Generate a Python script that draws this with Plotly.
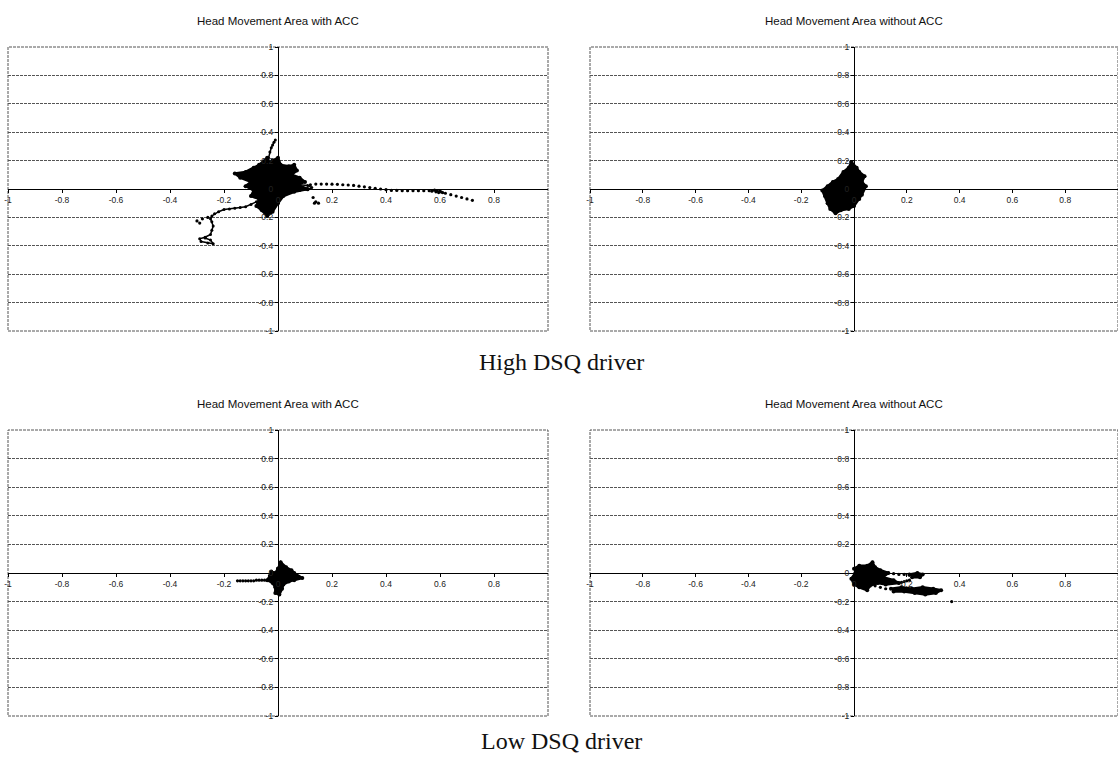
import plotly.graph_objects as go

# ---------------- data ----------------
X_TICKS = [-1, -0.8, -0.6, -0.4, -0.2, 0, 0.2, 0.4, 0.6, 0.8]
X_TICK_TEXT = ["-1", "-0.8", "-0.6", "-0.4", "-0.2", "0", "0.2", "0.4", "0.6", "0.8"]
Y_TICKS = [-1, -0.8, -0.6, -0.4, -0.2, 0, 0.2, 0.4, 0.6, 0.8, 1]
Y_TICK_TEXT = ["-1", "-0.8", "-0.6", "-0.4", "-0.2", "0", "0.2", "0.4", "0.6", "0.8", "1"]

PANEL_TITLES = ["Head Movement Area with ACC", "Head Movement Area without ACC",
                "Head Movement Area with ACC", "Head Movement Area without ACC"]
ROW_CAPTIONS = ["High DSQ driver", "Low DSQ driver"]

# Panel 1: High DSQ, with ACC
TL_BLOB_X = [-0.02, 0.0, 0.01, 0.04, 0.06, 0.07, 0.05, 0.08, 0.10, 0.07, 0.11, 0.06, 0.02, 0.0,
             -0.02, -0.04, -0.06, -0.08, -0.07, -0.10, -0.09, -0.12, -0.10, -0.14, -0.16, -0.12,
             -0.09, -0.07, -0.04, -0.03]
TL_BLOB_Y = [0.20, 0.22, 0.17, 0.16, 0.17, 0.13, 0.10, 0.08, 0.05, 0.03, 0.0, -0.02, -0.05, -0.10,
             -0.16, -0.19, -0.15, -0.12, -0.07, -0.05, -0.01, 0.02, 0.05, 0.08, 0.11, 0.12,
             0.15, 0.17, 0.22, 0.18]
TL_PATH_X = [-0.08, -0.10, -0.12, -0.14, -0.16, -0.18, -0.20, -0.22, -0.235, -0.245, -0.25, -0.245,
             -0.24, -0.245, -0.25, -0.27, -0.29, -0.285, -0.26, -0.24, -0.25, -0.27, None,
             -0.035, -0.03, -0.025, -0.02, -0.015, -0.01, None,
             0.05, 0.08, 0.11, 0.125, 0.11, 0.08, 0.05]
TL_PATH_Y = [-0.09, -0.11, -0.125, -0.13, -0.135, -0.14, -0.145, -0.16, -0.175, -0.19, -0.21, -0.23,
             -0.26, -0.29, -0.32, -0.34, -0.35, -0.37, -0.38, -0.385, -0.36, -0.345, None,
             0.22, 0.26, 0.29, 0.31, 0.33, 0.345, None,
             0.02, 0.03, 0.025, 0.01, -0.005, -0.01, -0.005]
TL_DOTS_X = [0.12, 0.14, 0.16, 0.18, 0.20, 0.22, 0.24, 0.26, 0.28, 0.30, 0.32, 0.34, 0.36, 0.38,
             0.40, 0.42, 0.44, 0.46, 0.48, 0.50, 0.52, 0.54, 0.56, 0.57, 0.58, 0.585, 0.59, 0.595,
             0.60, 0.605, 0.61, 0.62, 0.64, 0.66, 0.68, 0.70, 0.72,
             0.13, 0.14, 0.15, 0.135, -0.26, -0.28, -0.30, -0.29]
TL_DOTS_Y = [0.03, 0.035, 0.035, 0.035, 0.034, 0.033, 0.03, 0.028, 0.025, 0.02, 0.015, 0.01, 0.005,
             0.0, -0.005, -0.01, -0.01, -0.012, -0.012, -0.012, -0.012, -0.012, -0.012, -0.015,
             -0.008, -0.02, -0.012, -0.025, -0.015, -0.022, -0.025, -0.03, -0.04, -0.05, -0.06,
             -0.07, -0.08,
             -0.06, -0.09, -0.10, -0.1, -0.20, -0.21, -0.225, -0.24]

# Panel 2: High DSQ, without ACC
TR_BLOB_X = [-0.01, 0.01, 0.02, 0.04, 0.03, 0.045, 0.03, 0.02, 0.0, -0.02, -0.05, -0.07, -0.09,
             -0.10, -0.11, -0.12, -0.10, -0.08, -0.06, -0.04, -0.02]
TR_BLOB_Y = [0.19, 0.15, 0.12, 0.09, 0.05, 0.02, -0.04, -0.07, -0.12, -0.14, -0.15, -0.17, -0.14,
             -0.10, -0.05, -0.01, 0.02, 0.05, 0.07, 0.12, 0.15]

# Panel 3: Low DSQ, with ACC
BL_BLOB_X = [0.0, 0.01, 0.03, 0.05, 0.06, 0.09, 0.06, 0.04, 0.02, 0.015, 0.005, -0.01, -0.01,
             -0.02, -0.04, -0.03, -0.025, -0.01]
BL_BLOB_Y = [0.03, 0.075, 0.04, 0.02, 0.0, -0.035, -0.05, -0.06, -0.08, -0.11, -0.15, -0.14,
             -0.10, -0.07, -0.05, -0.02, 0.01, 0.0]
BL_DOTS_X = [-0.15, -0.14, -0.13, -0.12, -0.11, -0.10, -0.09, -0.08, -0.07, -0.06, -0.05]
BL_DOTS_Y = [-0.055, -0.055, -0.055, -0.055, -0.055, -0.055, -0.055, -0.05, -0.05, -0.05, -0.05]

# Panel 4: Low DSQ, without ACC
BR_BLOB_X = [0.0, 0.02, 0.05, 0.07, 0.08, 0.10, 0.13, 0.11, 0.15, 0.17, 0.12, 0.09, 0.06, 0.05,
             0.02, 0.0, -0.01, 0.005, None,
             0.14, 0.18, 0.22, 0.26, 0.30, 0.33, 0.31, 0.27, 0.23, 0.19, 0.15, None,
             0.21, 0.24, 0.26, 0.25, 0.22]
BR_BLOB_Y = [0.03, 0.05, 0.05, 0.075, 0.04, 0.02, 0.0, -0.03, -0.05, -0.07, -0.08, -0.07, -0.09,
             -0.12, -0.10, -0.08, -0.04, 0.0, None,
             -0.11, -0.10, -0.11, -0.10, -0.11, -0.12, -0.14, -0.15, -0.14, -0.13, -0.13, None,
             -0.01, 0.0, -0.01, -0.03, -0.03]
BR_DOTS_X = [0.13, 0.15, 0.17, 0.19, 0.21, 0.17, 0.18, 0.19, 0.20, 0.21, 0.08, 0.10, 0.12, 0.37]
BR_DOTS_Y = [0.0, -0.005, -0.01, -0.01, -0.015, -0.07, -0.065, -0.06, -0.055, -0.05, -0.09, -0.10,
             -0.11, -0.2]

# ---------------- layout geometry ----------------
W, H = 1118, 760
# panel boxes in pixels: (left, right, top, bottom)
BOXES = [(8, 548, 47, 331), (590, 1118, 47, 331), (8, 548, 430, 716), (590, 1118, 430, 716)]

fig = go.Figure()

panels = [
    (TL_BLOB_X, TL_BLOB_Y, [(TL_PATH_X, TL_PATH_Y)], [(TL_DOTS_X, TL_DOTS_Y)]),
    (TR_BLOB_X, TR_BLOB_Y, [], []),
    (BL_BLOB_X, BL_BLOB_Y, [], [(BL_DOTS_X, BL_DOTS_Y)]),
    (BR_BLOB_X, BR_BLOB_Y, [], [(BR_DOTS_X, BR_DOTS_Y)]),
]

layout = dict(
    width=W, height=H, margin=dict(l=0, r=0, t=0, b=0, pad=0, autoexpand=False),
    paper_bgcolor="white", plot_bgcolor="white", showlegend=False,
    shapes=[], annotations=[],
)

tick_font = dict(family="Liberation Sans, Arial", size=8.5, color="#222")

for i, (box, (bx, by, paths, dots)) in enumerate(zip(BOXES, panels), start=1):
    l, r, t, b = box
    xd = [l / W, min(r / W, 1.0)]
    yd = [1 - b / H, 1 - t / H]
    xmid = (xd[0] + xd[1]) / 2
    ymid = (yd[0] + yd[1]) / 2
    xa = "x" if i == 1 else f"x{i}"
    ya = "y" if i == 1 else f"y{i}"

    layout[f"xaxis{'' if i == 1 else i}"] = dict(
        domain=xd, range=[-1, 1], anchor="free", position=ymid, automargin=False,
        showline=True, linecolor="black", linewidth=1.3,
        tickvals=X_TICKS, ticktext=X_TICK_TEXT, ticks="outside", ticklen=3,
        tickcolor="black", tickfont=tick_font,
        showgrid=False, zeroline=False, fixedrange=True,
    )
    layout[f"yaxis{'' if i == 1 else i}"] = dict(
        domain=yd, range=[-1, 1], anchor="free", position=xmid, automargin=False,
        showline=True, linecolor="black", linewidth=1.3,
        tickvals=Y_TICKS, ticktext=Y_TICK_TEXT, ticks="outside", ticklen=3,
        tickcolor="black", tickfont=tick_font,
        showgrid=True, gridcolor="#555", gridwidth=1, griddash="3px,1px",
        zeroline=False, fixedrange=True,
    )
    layout["shapes"].append(dict(
        type="rect", xref=f"{xa} domain", yref=f"{ya} domain", x0=0, x1=1, y0=0, y1=1,
        line=dict(color="#555", width=1, dash="3px,1px"), layer="below",
    ))
    layout["annotations"].append(dict(
        text=PANEL_TITLES[i - 1], xref="paper", yref="paper",
        x=xmid, y=yd[1] + 26 / H, xanchor="center", yanchor="middle", showarrow=False,
        font=dict(family="Liberation Sans, Arial", size=11.5, color="#111"),
    ))

    fig.add_trace(go.Scatter(
        x=bx + [bx[0]] if None not in bx else bx, y=by + [by[0]] if None not in by else by,
        xaxis=xa, yaxis=ya, mode="lines+markers", fill="toself", fillcolor="black",
        line=dict(color="black", width=2.5), marker=dict(color="black", size=4),
        hoverinfo="skip",
    ))
    for px, py in paths:
        fig.add_trace(go.Scatter(
            x=px, y=py, xaxis=xa, yaxis=ya, mode="lines+markers",
            line=dict(color="black", width=1.5), marker=dict(color="black", size=3),
            hoverinfo="skip",
        ))
    for dx, dy in dots:
        fig.add_trace(go.Scatter(
            x=dx, y=dy, xaxis=xa, yaxis=ya, mode="markers",
            marker=dict(color="black", size=3.2), hoverinfo="skip",
        ))

for cap, ypx in zip(ROW_CAPTIONS, [362, 741]):
    layout["annotations"].append(dict(
        text=cap, xref="paper", yref="paper", x=561 / W, y=1 - ypx / H,
        xanchor="center", yanchor="middle", showarrow=False,
        font=dict(family="Liberation Serif, Times New Roman", size=24, color="#111"),
    ))

fig.update_layout(**layout)
fig.write_html("out.html", config={"displayModeBar": False},
               post_script="document.body.style.margin='0';document.body.style.overflow='hidden';")
